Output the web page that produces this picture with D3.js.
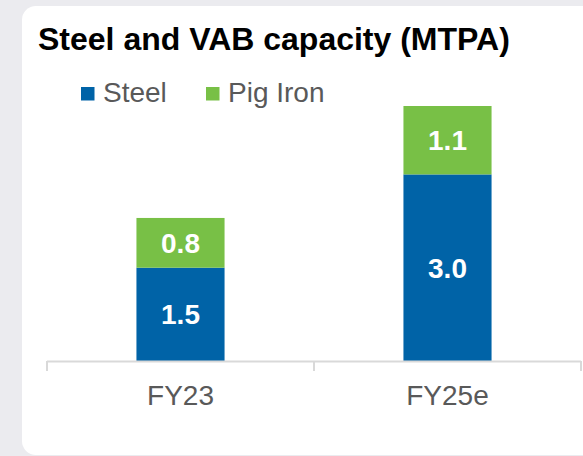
<!DOCTYPE html>
<html><head><meta charset="utf-8">
<script src="https://cdn.jsdelivr.net/npm/d3@7"></script>
<style>html,body{margin:0;padding:0;background:#ebebef;}svg{display:block;}</style>
</head><body>
<script>
const categories = ["FY23", "FY25e"];
const steel = [1.5, 3.0];
const pigIron = [0.8, 1.1];
const seriesNames = ["Steel", "Pig Iron"];
const colors = ["#0063a7", "#78c046"];
const title = "Steel and VAB capacity (MTPA)";

const W = 583, H = 456;
const svg = d3.select("body").append("svg").attr("width", W).attr("height", H);
svg.append("rect").attr("width", W).attr("height", H).attr("fill", "#ebebef");
svg.append("rect").attr("x", 22).attr("y", 6).attr("width", 620).attr("height", 449)
  .attr("rx", 14).attr("fill", "#ffffff");

const font = "Liberation Sans, Arial, sans-serif";
svg.append("text").attr("x", 38).attr("y", 50).text(title)
  .attr("font-family", font).attr("font-weight", "bold").attr("font-size", 32).attr("fill", "#000");

// legend
const legX = [81, 206];
seriesNames.forEach((n, i) => {
  svg.append("rect").attr("x", legX[i]).attr("y", 87).attr("width", 13.5).attr("height", 13.5).attr("fill", colors[i]);
  svg.append("text").attr("x", legX[i] + 22).attr("y", 102).text(n)
    .attr("font-family", font).attr("font-size", 28).attr("fill", "#595959");
});

const x = d3.scaleBand().domain(categories).range([47, 581]).padding(0);
const y = d3.scaleLinear().domain([0, 4.1]).range([361, 106]);
const bw = x.bandwidth() * 0.33;

const data = categories.map((c, i) => ({c, s: steel[i], p: pigIron[i]}));
const stack = d3.stack().keys(["s", "p"])(data);

stack.forEach((layer, li) => {
  const g = svg.append("g");
  g.selectAll("rect").data(layer).join("rect")
    .attr("x", d => x(d.data.c) + x.bandwidth() / 2 - bw / 2)
    .attr("width", bw)
    .attr("y", d => y(d[1]))
    .attr("height", d => y(d[0]) - y(d[1]))
    .attr("fill", colors[li]);
  g.selectAll("text").data(layer).join("text")
    .attr("x", d => x(d.data.c) + x.bandwidth() / 2)
    .attr("y", d => (y(d[0]) + y(d[1])) / 2 + 10)
    .attr("text-anchor", "middle")
    .attr("font-family", font).attr("font-weight", "bold").attr("font-size", 28)
    .attr("fill", "#ffffff")
    .text(d => (d[1] - d[0]).toFixed(1));
});

// axis
const axisG = svg.append("g");
axisG.append("line").attr("x1", 47).attr("x2", 581).attr("y1", 361.5).attr("y2", 361.5)
  .attr("stroke", "#d9d9d9").attr("stroke-width", 2);
const tickPos = categories.map(c => x(c)).concat([x(categories[categories.length - 1]) + x.bandwidth()]);
axisG.selectAll("line.tick").data(tickPos).join("line").attr("class", "tick")
  .attr("x1", d => d).attr("x2", d => d).attr("y1", 361).attr("y2", 371)
  .attr("stroke", "#d9d9d9").attr("stroke-width", 2);
axisG.selectAll("text").data(categories).join("text")
  .attr("x", d => x(d) + x.bandwidth() / 2).attr("y", 405)
  .attr("text-anchor", "middle").attr("font-family", font).attr("font-size", 28)
  .attr("fill", "#595959").text(d => d);
</script>
</body></html>
